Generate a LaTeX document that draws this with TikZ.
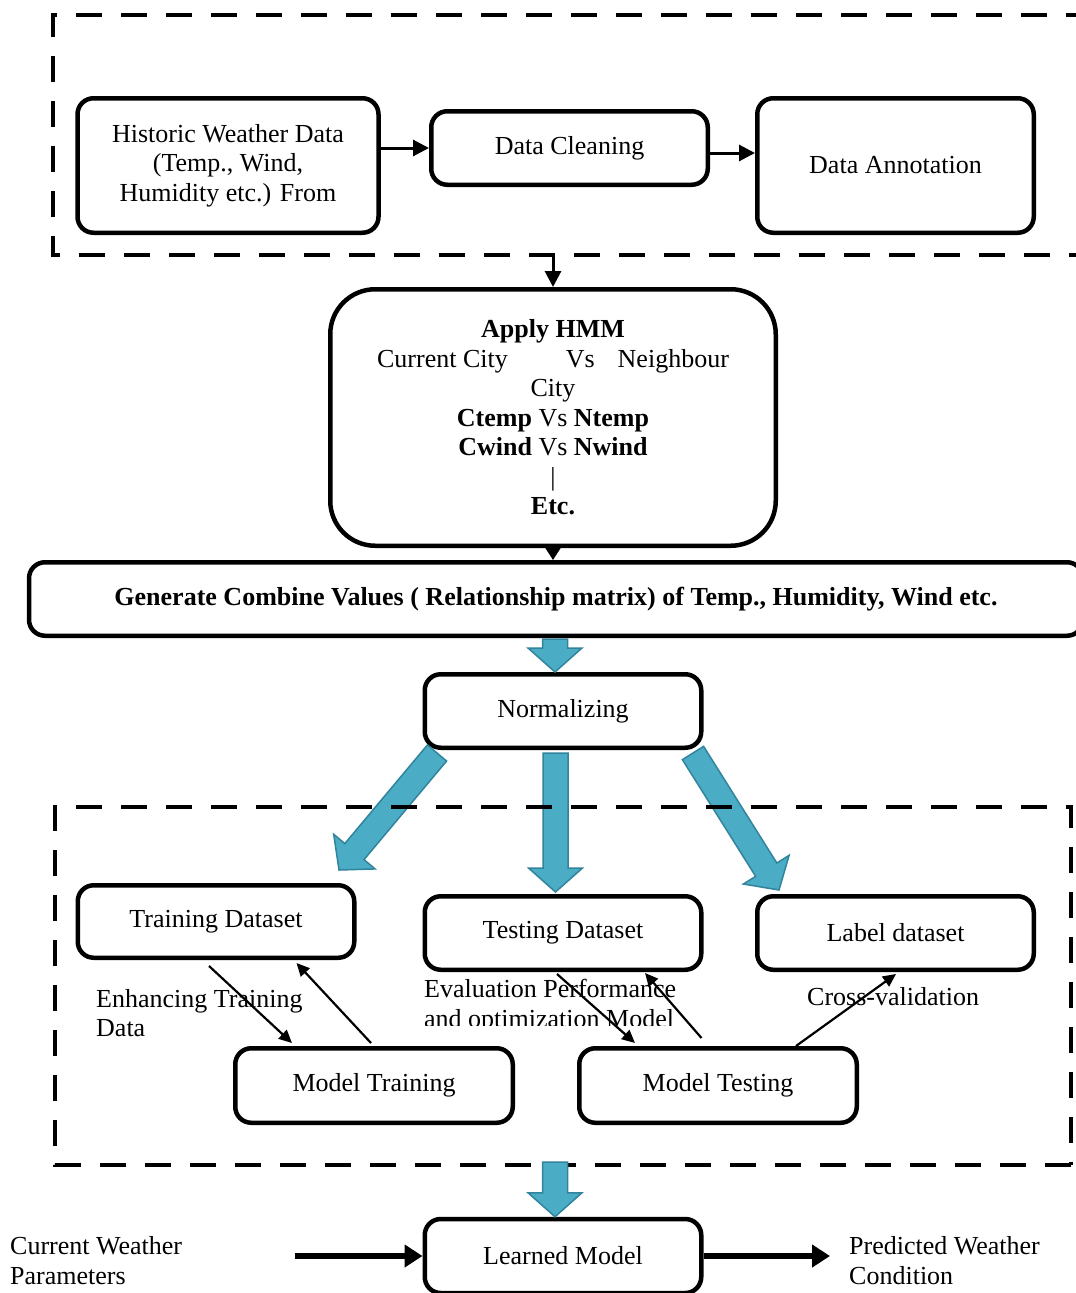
\documentclass[tikz,border=0pt]{standalone}
\usepackage{fontspec}
\setmainfont{Liberation Serif}
\usetikzlibrary{calc,arrows.meta}
\definecolor{aqua}{HTML}{4BACC6}
\definecolor{aquadark}{HTML}{31849B}
\newcommand{\fatarrow}[2]{%
  \coordinate (fah) at ($(#2)!24pt!(#1)$);
  \filldraw[fat] ($(#1)!12.5pt!-90:(#2)$) -- ($(fah)!12.5pt!-90:(#2)$) -- ($(fah)!27pt!-90:(#2)$) -- (#2)
     -- ($(fah)!27pt!90:(#2)$) -- ($(fah)!12.5pt!90:(#2)$) -- ($(#1)!12.5pt!90:(#2)$) -- cycle;}
\begin{document}
\begin{tikzpicture}[x=1pt,y=-1pt,
  every node/.style={font=\fontsize{26}{29.5}\selectfont},
  box/.style={draw, line width=4.5pt, rounded corners=16pt, align=center, inner sep=2pt},
  lbl/.style={inner sep=0pt, align=left},
  arr/.style={line width=3pt, -{Triangle[length=16pt,width=16pt]}},
  tarr/.style={line width=2.2pt, -{Triangle[length=13pt,width=12pt]}},
  bigarr/.style={line width=6pt, -{Triangle[length=18pt,width=22pt]}},
  fat/.style={fill=aqua, draw=aquadark, line width=1.5pt, line join=miter},
  dashbox/.style={draw, line width=4.5pt, dash pattern=on 26pt off 19pt}]
\useasboundingbox (0,0) rectangle (1076,1293);
\clip (0,0) rectangle (1076,1293);
\fill[white] (0,0) rectangle (1076,1293);

% boxes
\node[box, minimum width=301pt, minimum height=134.5pt] (hist) at (228,165.5) {Historic Weather Data\\(Temp., Wind,\\Humidity etc.) From};
\node[box, minimum width=276.5pt, minimum height=73.5pt] (clean) at (569.5,148) {Data Cleaning};
\node[box, minimum width=276.5pt, minimum height=134.5pt] (annot) at (895.5,165.5) {Data Annotation};
\node[box, rounded corners=45pt, minimum width=445.5pt, minimum height=256.5pt] (hmm) at (553,417.5)
  {\textbf{Apply HMM}\\Current City\hspace{58pt}Vs\hspace{23pt}Neighbour\\City\\\textbf{Ctemp} Vs \textbf{Ntemp}\\\textbf{Cwind} Vs \textbf{Nwind}\\|\\\textbf{Etc.}};
\node[box, minimum width=1054pt, minimum height=73.5pt] (gen) at (556,599)
  {\textbf{Generate Combine Values ( Relationship matrix) of Temp., Humidity, Wind etc.}};
\node[box, minimum width=276.5pt, minimum height=73.5pt] (norm) at (563,711) {Normalizing};
\node[box, minimum width=276.5pt, minimum height=72.5pt] (train) at (216,921.5) {Training Dataset};
\node[box, minimum width=276.5pt, minimum height=73.5pt] (test) at (563,933) {Testing Dataset};
\node[box, minimum width=276.5pt, minimum height=73.5pt] (label) at (895.5,933) {Label dataset};
\node[box, minimum width=277.5pt, minimum height=74.5pt] (mtrain) at (374,1085.5) {Model Training};
\node[box, minimum width=277.5pt, minimum height=74.5pt] (mtest) at (718,1085.5) {Model Testing};
\node[box, minimum width=276.5pt, minimum height=74pt] (learned) at (563,1256) {Learned Model};

% labels
\node[lbl, anchor=west] (enh) at (96,1013) {Enhancing Training\\Data};
\begin{scope}
  \clip (400,960) rectangle (720,1025);
  \node[lbl, anchor=west] (eval) at (424,1006) {Evaluation Performance\\and optimization Model};
\end{scope}
\node[lbl, anchor=west] (cross) at (807,997) {Cross-validation};
\node[lbl, anchor=west] (cw) at (10,1260.5) {Current Weather\\Parameters};
\node[lbl, anchor=west] (pw) at (849,1260.5) {Predicted Weather\\Condition};

% top arrows
\draw[arr] (hist.east |- clean.west) -- (clean.west);
\draw[arr] ($(clean.east)+(0,5)$) coordinate (ce) -- (ce -| annot.west);
\coordinate (tb) at (553,256);
\draw[arr] (tb) -- (hmm.north);
\draw[line width=2.5pt, -{Triangle[length=13pt,width=16pt]}] (hmm.south) -- (hmm.south |- gen.north);

% fat arrows
\coordinate (gs) at (555,639);
\coordinate (gt) at (gs |- norm.north);
\fatarrow{gs}{gt}
\coordinate (nl) at (437,753);
\coordinate (tl) at (339,870);
\fatarrow{nl}{tl}
\coordinate (nm) at (555.5,753);
\coordinate (tm) at (555.5,892);
\fatarrow{nm}{tm}
\coordinate (nr) at (693,753);
\coordinate (tr) at (779,890);
\fatarrow{nr}{tr}

% dashed boxes
\draw[dashbox] (1095,255) -- (53,255) -- (53,15) -- (1095,15);
\draw[dashbox] (1071,1165) -- (55,1165) -- (55,807) -- (1071,807) -- cycle;

% bottom fat arrow
\coordinate (db) at (555,1162);
\coordinate (lt) at (db |- learned.north);
\fatarrow{db}{lt}

% thin arrows in lower box
\draw[tarr] ($(train.south)+(-7,6)$) -- ($(mtrain.north)+(-82,-3)$);
\draw[tarr] ($(mtrain.north)+(-3,-3)$) -- ($(train.south)+(80.5,3)$);
\draw[tarr] ($(test.south)+(-6,2)$) -- ($(mtest.north)+(-83,-3)$);
\draw[tarr] ($(mtest.north)+(-16.5,-8)$) -- ($(test.south)+(82,1)$);
\draw[tarr] ($(mtest.north)+(78,0)$) -- ($(label.south)+(0.5,2)$);

% bottom in/out arrows
\coordinate (cwa) at (295,1256);
\draw[bigarr] (cwa) -- (learned.west);
\coordinate (pwa) at (830,1256);
\draw[bigarr] (learned.east) -- (pwa);
\end{tikzpicture}
\end{document}
